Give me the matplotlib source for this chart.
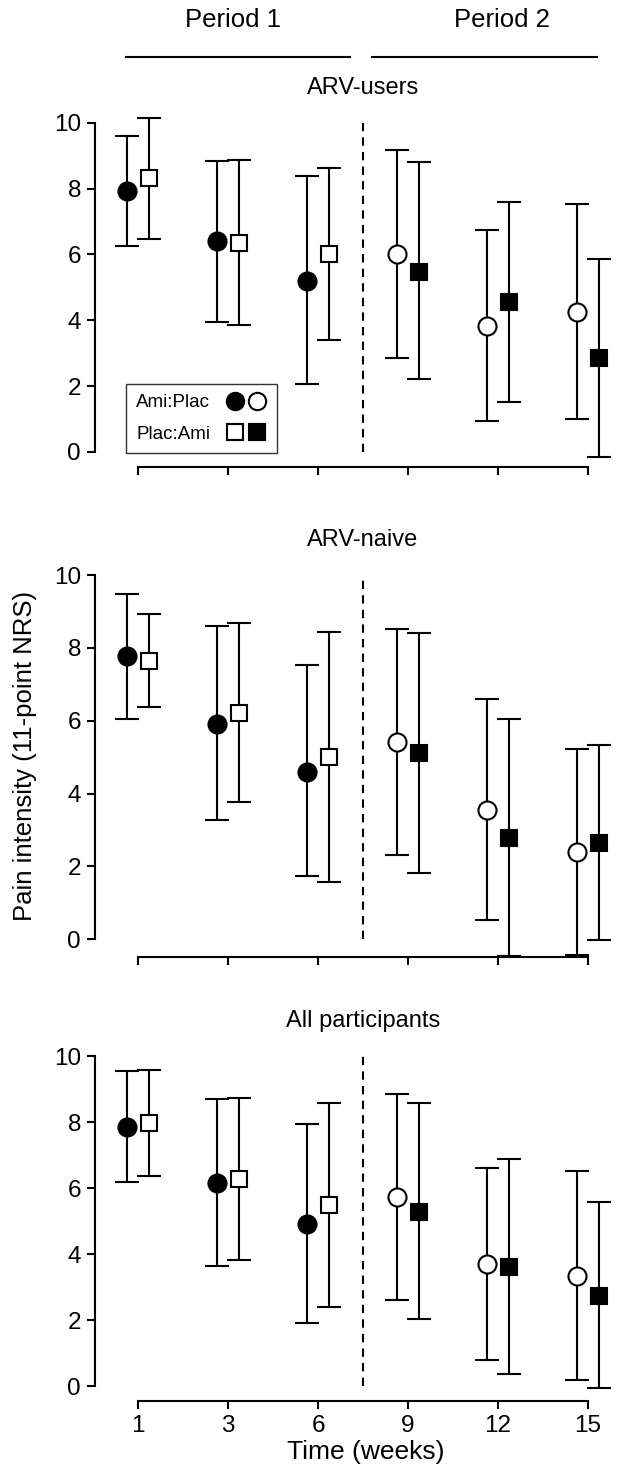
import numpy as np
import matplotlib
matplotlib.use("Agg")
import matplotlib.pyplot as plt
from matplotlib.lines import Line2D
from matplotlib.legend_handler import HandlerTuple

plt.rcParams['font.family'] = ['Liberation Sans', 'DejaVu Sans']

weeks = ['1', '3', '6', '9', '12', '15']
titles = ['ARV-users', 'ARV-naive', 'All participants']

# Ami:Plac sequence (circles): mean, lower and upper end of bar
ami_users = [7.94, 6.40, 5.20, 6.01, 3.83, 4.25]
ami_users_lo = [6.27, 3.94, 2.05, 2.84, 0.95, 0.99]
ami_users_hi = [9.60, 8.84, 8.39, 9.17, 6.74, 7.52]

ami_naive = [7.78, 5.90, 4.59, 5.41, 3.56, 2.39]
ami_naive_lo = [6.06, 3.28, 1.74, 2.31, 0.53, -0.43]
ami_naive_hi = [9.49, 8.59, 7.54, 8.51, 6.59, 5.23]

ami_all = [7.85, 6.16, 4.92, 5.72, 3.70, 3.35]
ami_all_lo = [6.18, 3.63, 1.91, 2.60, 0.79, 0.20]
ami_all_hi = [9.55, 8.71, 7.95, 8.84, 6.62, 6.53]

# Plac:Ami sequence (squares)
plac_users = [8.33, 6.35, 6.01, 5.48, 4.55, 2.84]
plac_users_lo = [6.48, 3.85, 3.39, 2.22, 1.51, -0.15]
plac_users_hi = [10.16, 8.87, 8.62, 8.80, 7.59, 5.87]

plac_naive = [7.64, 6.20, 5.01, 5.10, 2.77, 2.64]
plac_naive_lo = [6.38, 3.76, 1.57, 1.83, -0.45, -0.02]
plac_naive_hi = [8.93, 8.67, 8.44, 8.40, 6.05, 5.32]

plac_all = [7.96, 6.26, 5.48, 5.28, 3.62, 2.74]
plac_all_lo = [6.36, 3.82, 2.40, 2.04, 0.38, -0.06]
plac_all_hi = [9.58, 8.74, 8.57, 8.57, 6.88, 5.59]

ami = [(ami_users, ami_users_lo, ami_users_hi),
       (ami_naive, ami_naive_lo, ami_naive_hi),
       (ami_all, ami_all_lo, ami_all_hi)]
plac = [(plac_users, plac_users_lo, plac_users_hi),
        (plac_naive, plac_naive_lo, plac_naive_hi),
        (plac_all, plac_all_lo, plac_all_hi)]

fig = plt.figure(figsize=(6.21, 14.79), dpi=100)
positions = [[0.153, 0.6842, 0.837, 0.2394],
             [0.153, 0.3529, 0.837, 0.2657],
             [0.153, 0.0527, 0.837, 0.2400]]
ylims = [(-0.46, 10.3), (-0.49, 10.3), (-0.45, 10.3)]

x = np.arange(len(weeks))
off = 0.125
lw = 1.5


def draw_group(ax, xs, vals, lo, hi, marker, ms, fill_first):
    vals = np.array(vals)
    lo = np.array(lo)
    hi = np.array(hi)
    ax.errorbar(xs, vals, yerr=[vals - lo, hi - vals], fmt='none', ecolor='black',
                elinewidth=lw, capsize=8.5, capthick=lw, zorder=2, clip_on=False)
    fills = ['black' if (i < 3) == fill_first else 'white' for i in range(len(vals))]
    for xi, v, fc in zip(xs, vals, fills):
        ax.plot(xi, v, marker=marker, ms=ms, mfc=fc, mec='black', mew=lw,
                linestyle='none', zorder=3, clip_on=False)


axes = []
for k in range(3):
    ax = fig.add_axes(positions[k])
    axes.append(ax)
    m, l, h = ami[k]
    draw_group(ax, x - off, m, l, h, 'o', 13, True)
    m, l, h = plac[k]
    draw_group(ax, x + off, m, l, h, 's', 11, False)

    ax.vlines(2.5, 0, 10, colors='black', linestyles=(0, (4, 3)), linewidth=lw)

    ax.set_xlim(-0.48, 5.3)
    ax.set_ylim(*ylims[k])
    ax.spines['top'].set_visible(False)
    ax.spines['right'].set_visible(False)
    ax.spines['left'].set_bounds(0, 10)
    ax.spines['bottom'].set_bounds(0, 5)
    for s in ['left', 'bottom']:
        ax.spines[s].set_linewidth(lw)
    ax.set_yticks([0, 2, 4, 6, 8, 10])
    ax.set_xticks(x)
    ax.tick_params(axis='both', direction='out', length=6, width=lw, labelsize=17.5, pad=4)
    if k < 2:
        ax.set_xticklabels([])
    else:
        ax.set_xticklabels(weeks)
    ax.annotate(titles[k], xy=(2.5, 10), xytext=(0, 25), textcoords='offset points',
                ha='center', va='center', fontsize=17)

# period brackets above first panel
ax1 = axes[0]
ax1.plot([-0.13, 2.35], [12.0, 12.0], color='black', lw=lw, clip_on=False)
ax1.plot([2.6, 5.1], [12.0, 12.0], color='black', lw=lw, clip_on=False)
ax1.text(1.05, 13.13, 'Period 1', ha='center', va='center', fontsize=18.5)
ax1.text(4.05, 13.13, 'Period 2', ha='center', va='center', fontsize=18.5)

# legend in first panel
h_ami = (Line2D([], [], marker='o', ms=12.5, mfc='black', mec='black', mew=lw, ls='none'),
         Line2D([], [], marker='o', ms=12.5, mfc='white', mec='black', mew=lw, ls='none'))
h_plac = (Line2D([], [], marker='s', ms=11, mfc='white', mec='black', mew=lw, ls='none'),
          Line2D([], [], marker='s', ms=11, mfc='black', mec='black', mew=lw, ls='none'))
leg = ax1.legend([h_ami, h_plac], ['Ami:Plac', 'Plac:Ami'],
                 handler_map={tuple: HandlerTuple(ndivide=None, pad=0.15)},
                 loc='lower left', bbox_to_anchor=(0.0595, 0.04), borderaxespad=0,
                 markerfirst=False, fontsize=13.5, frameon=True, fancybox=False,
                 edgecolor='black', handlelength=2.2, handletextpad=0.8,
                 labelspacing=0.75, borderpad=0.55)
leg.get_frame().set_linewidth(1.0)

axes[2].set_xlabel('Time (weeks)', fontsize=19)
axes[2].xaxis.set_label_coords(0.52, -0.11)
axes[1].set_ylabel('Pain intensity (11-point NRS)', fontsize=18.5)
axes[1].yaxis.set_label_coords(-0.112, 0.511)

fig.savefig('out.png', dpi=100)
